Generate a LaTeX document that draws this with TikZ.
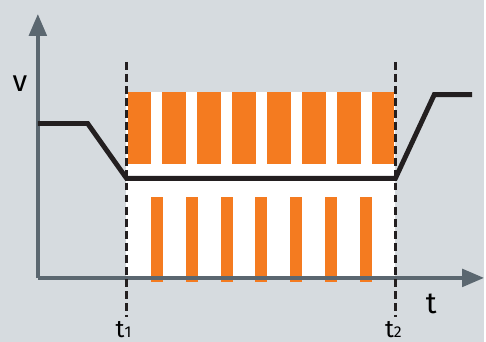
\documentclass[tikz,border=0pt]{standalone}
\usepackage{fontspec}
\setmainfont{Fira Sans}
\usetikzlibrary{arrows.meta}
\definecolor{bggrey}{HTML}{D6DBDF}
\definecolor{axisgrey}{HTML}{5B6770}
\definecolor{pulseorange}{HTML}{F47B20}
\definecolor{curveblack}{HTML}{231F20}

\begin{document}
\begin{tikzpicture}[x=0.02cm, y=-0.02cm,
	axis/.style={axisgrey, line width=2.2pt, -{Triangle[length=0.44cm, width=0.35cm]}},
	pulse/.style={fill=pulseorange},
	marker/.style={curveblack, line width=1.6pt, dash pattern=on 4.5pt off 2.4pt},
	label/.style={inner sep=0pt, font=\fontsize{17}{20}\selectfont}]
	\fill [bggrey] (0,0) rectangle (486,343);
	\fill [white] (127,92) rectangle (397,279);
	
	% pulses above the curve
	\fill [pulse] (129,92) rectangle (152,165);
	\fill [pulse] (163,92) rectangle (187,165);
	\fill [pulse] (198,92) rectangle (222,165);
	\fill [pulse] (233,92) rectangle (257,165);
	\fill [pulse] (268,92) rectangle (292,165);
	\fill [pulse] (303,92) rectangle (327,165);
	\fill [pulse] (338,92) rectangle (362,165);
	\fill [pulse] (373,92) rectangle (396,165);
	
	% pulses below the curve
	\fill [pulse] (152,198) rectangle (164,283);
	\fill [pulse] (187,198) rectangle (199,283);
	\fill [pulse] (222,198) rectangle (234,283);
	\fill [pulse] (256,198) rectangle (268,283);
	\fill [pulse] (291,198) rectangle (303,283);
	\fill [pulse] (326,198) rectangle (338,283);
	\fill [pulse] (361,198) rectangle (373,283);
	
	\coordinate (O) at (38,279);
	\draw [axis] (O) -- (38,14);
	\draw [axis] (O) -- (486,279);
	
	\node [label] (v) at (20,84) {v};
	\node [label] (t) at (433,305) {t};
	
	\draw [marker] (127,62) -- (127,318);
	\draw [marker] (397,62) -- (397,318);
	\node [label, font=\fontsize{14}{16}\selectfont] (t1) at (124,331) {t{\fontsize{9}{10}\selectfont 1}};
	\node [label, font=\fontsize{14}{16}\selectfont] (t2) at (395,331) {t{\fontsize{9}{10}\selectfont 2}};
	
	\draw [curveblack, line width=2.8pt, line join=miter] (38,124) -- (88,124) -- (127,179) -- (397,179) -- (436,95) -- (474,95);
\end{tikzpicture}
\end{document}
